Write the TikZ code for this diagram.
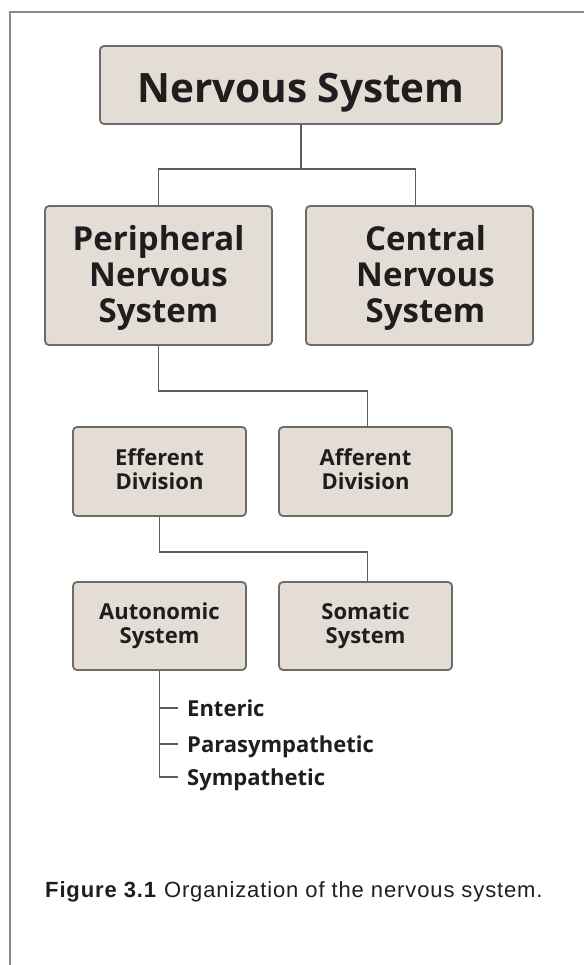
\documentclass[tikz,border=0pt]{standalone}
\usepackage{fontspec}
\setmainfont{Liberation Sans}
\newfontfamily\boxfont{Open Sans}
\definecolor{boxfill}{HTML}{E3DDD6}
\definecolor{boxline}{HTML}{6E6A66}
\definecolor{connc}{HTML}{5C5C5C}
\definecolor{framec}{HTML}{8C8C8C}
\definecolor{inkc}{HTML}{1E1E1E}
\begin{document}
\begin{tikzpicture}[x=1pt,y=-1pt,
  box/.style={draw=boxline, fill=boxfill, line width=1.8pt, rounded corners=4pt, inner sep=0pt, align=center, text=inkc},
  bigbox/.style={box, minimum width=227pt, minimum height=139pt, font=\boxfont\bfseries\fontsize{33}{35.5}\selectfont, text height=93pt, text depth=0pt},
  smallbox/.style={box, minimum width=173pt, minimum height=88pt, font=\boxfont\bfseries\fontsize{22}{23.5}\selectfont, text height=34pt, text depth=0pt},
  conn/.style={draw=connc, line width=1.4pt},
  item/.style={anchor=west, inner sep=0pt, text=inkc, font=\boxfont\bfseries\fontsize{22}{22}\selectfont, text height=20pt, text depth=4pt},
]
\useasboundingbox (0,0) rectangle (584,965);
\fill[white] (0,0) rectangle (584,965);
\draw[framec, line width=2pt] (10,965) -- (10,12) -- (584,12);

\node[box, minimum width=402pt, minimum height=78pt, font=\boxfont\bfseries\fontsize{40.5}{41}\selectfont, text height=36pt, text depth=0pt] (nerv) at (301,85) {Nervous System};
\node[bigbox] (pns) at (158.5,275.5) {Peripheral\\Nervous\\System};
\node[bigbox] (cns) at (419.5,275.5) {\hspace*{12pt}Central\\\hspace*{12pt}Nervous\\\hspace*{12pt}System};
\node[smallbox, minimum height=89pt, text height=35pt] (eff) at (159.5,471.5) {Efferent\\Division};
\node[smallbox, minimum height=89pt, text height=35pt] (aff) at (365.5,471.5) {Afferent\\Division};
\node[smallbox] (auto) at (159.5,626) {Autonomic\\System};
\node[smallbox] (som) at (365.5,626) {Somatic\\System};

\coordinate (j1) at (301,169);
\coordinate (j2) at (158.5,391);
\coordinate (j3) at (159.5,552);
\draw[conn] (nerv.south) -- (j1);
\draw[conn] (pns.north) |- (j1) -| ([xshift=-4pt]cns.north);
\draw[conn] (pns.south) -- (j2) -| ([xshift=2pt]aff.north);
\draw[conn] (eff.south) -- (j3) -| ([xshift=2pt]som.north);

\node[item] (ent) at (187,708) {Enteric};
\node[item] (par) at (187,744) {Parasympathetic};
\node[item] (sym) at (187,777) {Sympathetic};
\draw[conn] (auto.south) |- ([xshift=-9pt]sym.west);
\draw[conn] ([xshift=-9pt]ent.west) -- (auto.south |- ent.west);
\draw[conn] ([xshift=-9pt]par.west) -- (auto.south |- par.west);

\node[anchor=base west, inner sep=0pt, font=\fontsize{22}{22}\selectfont\addfontfeatures{LetterSpace=4}, text=inkc] (cap) at (45,897) {\textbf{Figure 3.1} Organization of the nervous system.};
\end{tikzpicture}
\end{document}
